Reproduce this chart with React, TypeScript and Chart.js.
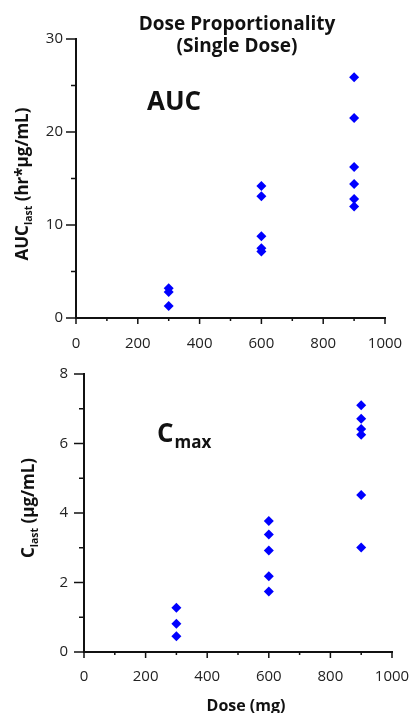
import React, { useEffect, useRef } from 'react';
import { Chart, registerables } from 'chart.js';
Chart.register(...registerables);

// ---- data ----
const doseLevels = [300, 600, 900];
const auc300 = [3.2, 2.8, 1.3];
const auc600 = [14.2, 13.1, 8.8, 7.5, 7.15];
const auc900 = [25.9, 21.5, 16.25, 14.4, 12.8, 12.0];
const cmax300 = [1.27, 0.81, 0.45];
const cmax600 = [3.77, 3.38, 2.92, 2.18, 1.74];
const cmax900 = [7.1, 6.71, 6.42, 6.25, 4.52, 3.01];
const xTickMax = 1000;
const aucMax = 30;
const cmaxMax = 8;

const FONT = '"Open Sans", Arial, sans-serif';
const BLUE = '#0000ff';

function toPoints(doses: number[], groups: number[][]) {
  const pts: { x: number; y: number }[] = [];
  groups.forEach((g, i) => g.forEach((v) => pts.push({ x: doses[i], y: v })));
  return pts;
}

type Seg = { text: string; size: number; dy?: number };

function drawRich(ctx: CanvasRenderingContext2D, segs: Seg[], cx: number, cy: number, rotate: boolean, mainSize: number) {
  ctx.save();
  ctx.translate(cx, cy);
  if (rotate) ctx.rotate(-Math.PI / 2);
  ctx.fillStyle = '#111';
  ctx.textAlign = 'left';
  ctx.textBaseline = 'alphabetic';
  const widths = segs.map((s) => {
    ctx.font = `bold ${s.size}px ${FONT}`;
    return ctx.measureText(s.text).width;
  });
  const total = widths.reduce((a, b) => a + b, 0);
  let x = -total / 2;
  const base = mainSize * 0.36;
  segs.forEach((s, i) => {
    ctx.font = `bold ${s.size}px ${FONT}`;
    ctx.fillText(s.text, x, base + (s.dy || 0));
    x += widths[i];
  });
  ctx.restore();
}

function tickPlugin(majorX: number, majorY: number) {
  return {
    id: 'customTicks',
    afterDraw(chart: any) {
      const ctx = chart.ctx as CanvasRenderingContext2D;
      const xs = chart.scales.x;
      const ys = chart.scales.y;
      ctx.save();
      ctx.strokeStyle = '#111';
      ctx.lineWidth = 1.5;
      xs.ticks.forEach((t: any) => {
        const px = xs.getPixelForValue(t.value);
        const len = t.value % majorX === 0 ? 6 : 3;
        ctx.beginPath();
        ctx.moveTo(px, xs.top);
        ctx.lineTo(px, xs.top + len);
        ctx.stroke();
      });
      ys.ticks.forEach((t: any) => {
        const py = ys.getPixelForValue(t.value);
        const len = t.value % majorY === 0 ? 10 : 5;
        ctx.beginPath();
        ctx.moveTo(ys.right, py);
        ctx.lineTo(ys.right - len, py);
        ctx.stroke();
      });
      ctx.restore();
    },
  };
}

function makeConfig(opts: {
  points: { x: number; y: number }[];
  yMax: number;
  yStep: number;
  yMajor: number;
  leftW: number;
  top: number;
  right: number;
  xH: number;
  yPad: number;
  xPad: number;
  texts: (ctx: CanvasRenderingContext2D) => void;
}): any {
  return {
    type: 'scatter',
    data: {
      datasets: [
        {
          data: opts.points,
          pointStyle: 'rectRot',
          pointRadius: 5,
          pointBackgroundColor: BLUE,
          pointBorderColor: BLUE,
          pointBorderWidth: 0,
        },
      ],
    },
    options: {
      responsive: false,
      animation: false,
      devicePixelRatio: 1,
      layout: { padding: { left: 0, top: opts.top, right: opts.right, bottom: 0 } },
      plugins: { legend: { display: false }, tooltip: { enabled: false }, title: { display: false } },
      scales: {
        x: {
          type: 'linear',
          min: 0,
          max: xTickMax,
          afterFit: (s: any) => {
            s.height = opts.xH;
            s.paddingLeft = 0;
            s.paddingRight = 0;
          },
          grid: { display: false, drawTicks: false },
          border: { display: true, color: '#111', width: 2 },
          ticks: {
            stepSize: 100,
            autoSkip: false,
            maxTicksLimit: 50,
            maxRotation: 0,
            padding: opts.xPad,
            color: '#222',
            font: { family: FONT, size: 15 },
            callback: (v: any) => (Number(v) % 200 === 0 ? String(v) : ''),
          },
        },
        y: {
          type: 'linear',
          min: 0,
          max: opts.yMax,
          afterFit: (s: any) => {
            s.width = opts.leftW;
            s.paddingTop = 0;
            s.paddingBottom = 0;
          },
          grid: { display: false, drawTicks: false },
          border: { display: true, color: '#111', width: 2 },
          ticks: {
            stepSize: opts.yStep,
            autoSkip: false,
            maxTicksLimit: 50,
            padding: opts.yPad,
            color: '#222',
            font: { family: FONT, size: 15 },
            callback: (v: any) => (Number(v) % opts.yMajor === 0 ? String(v) : ''),
          },
        },
      },
    },
    plugins: [
      tickPlugin(200, opts.yMajor),
      {
        id: 'texts',
        afterDraw(chart: any) {
          opts.texts(chart.ctx);
        },
      },
    ],
  };
}

export default function App() {
  const topRef = useRef<HTMLCanvasElement>(null);
  const botRef = useRef<HTMLCanvasElement>(null);

  useEffect(() => {
    const topChart = new Chart(
      topRef.current as HTMLCanvasElement,
      makeConfig({
        points: toPoints(doseLevels, [auc300, auc600, auc900]),
        yMax: aucMax,
        yStep: 5,
        yMajor: 10,
        leftW: 76,
        top: 39,
        right: 26,
        xH: 32,
        yPad: 13,
        xPad: 17,
        texts: (ctx) => {
          ctx.save();
          ctx.fillStyle = '#111';
          ctx.textAlign = 'center';
          ctx.textBaseline = 'alphabetic';
          ctx.font = `bold 19px ${FONT}`;
          ctx.fillText('Dose Proportionality', 237, 30);
          ctx.fillText('(Single Dose)', 237, 52);
          ctx.textAlign = 'left';
          ctx.font = `bold 26px ${FONT}`;
          ctx.fillText('AUC', 147, 110);
          ctx.restore();
          drawRich(
            ctx,
            [
              { text: 'AUC', size: 17 },
              { text: 'last', size: 10.5, dy: 4 },
              { text: ' (hr*µg/mL)', size: 17 },
            ],
            22,
            184,
            true,
            17
          );
        },
      })
    );
    const botChart = new Chart(
      botRef.current as HTMLCanvasElement,
      makeConfig({
        points: toPoints(doseLevels, [cmax300, cmax600, cmax900]),
        yMax: cmaxMax,
        yStep: 1,
        yMajor: 2,
        leftW: 84,
        top: 24,
        right: 19,
        xH: 61,
        yPad: 16,
        xPad: 16,
        texts: (ctx) => {
          ctx.save();
          ctx.fillStyle = '#111';
          ctx.textAlign = 'left';
          ctx.textBaseline = 'alphabetic';
          ctx.font = `bold 26px ${FONT}`;
          ctx.fillText('C', 157, 92);
          const cw = ctx.measureText('C').width;
          ctx.font = `bold 17px ${FONT}`;
          ctx.fillText('max', 157 + cw + 1, 98);
          ctx.textAlign = 'center';
          ctx.font = `bold 16px ${FONT}`;
          ctx.fillText('Dose (mg)', 246, 361);
          ctx.restore();
          drawRich(
            ctx,
            [
              { text: 'C', size: 17 },
              { text: 'last', size: 10.5, dy: 4 },
              { text: ' (µg/mL)', size: 17 },
            ],
            28,
            158,
            true,
            17
          );
        },
      })
    );
    return () => {
      topChart.destroy();
      botChart.destroy();
    };
  }, []);

  return (
    <div style={{ position: 'fixed', left: 0, top: 0, width: 411, height: 713, background: '#fff' }}>
      <canvas ref={topRef} width={411} height={350} style={{ position: 'absolute', left: 0, top: 0, width: 411, height: 350 }} />
      <canvas ref={botRef} width={411} height={363} style={{ position: 'absolute', left: 0, top: 350, width: 411, height: 363 }} />
    </div>
  );
}
